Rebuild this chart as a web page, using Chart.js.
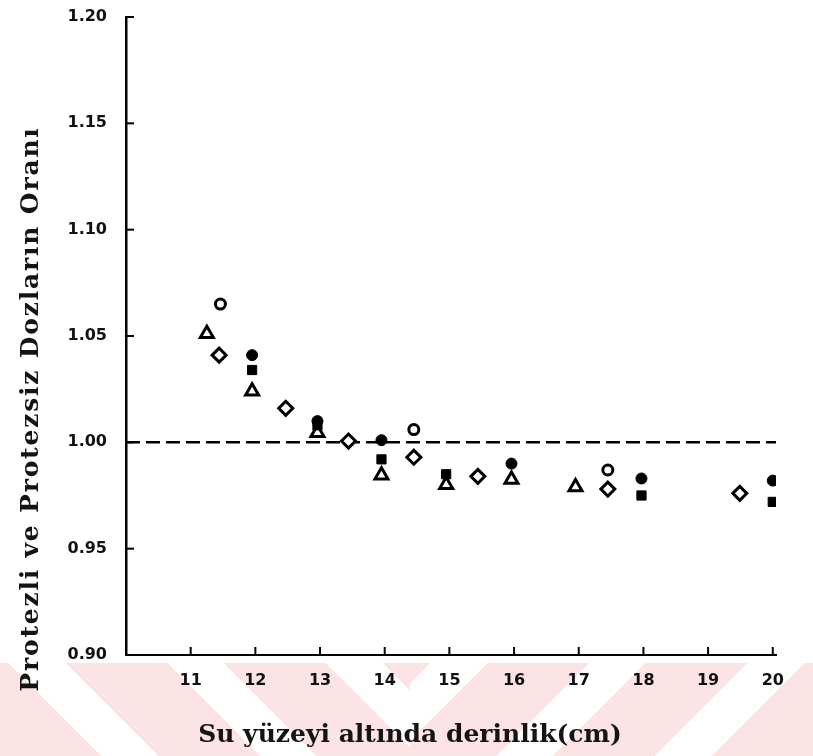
<!DOCTYPE html>
<html>
<head>
<meta charset="utf-8">
<script src="https://cdn.jsdelivr.net/npm/chart.js@4.4.0/dist/chart.umd.min.js"></script>
<style>
  html, body { margin: 0; padding: 0; background: #fff; }
  #wrap { position: relative; width: 813px; height: 756px; overflow: hidden; }
  /* pembe filigran şeritleri (alt kısım) */
  .bant { position: absolute; top: 663px; height: 93px; }
  #solBant { left: 0; width: 410px;
    background: repeating-linear-gradient(45deg, #fce3e6 0 72px, #ffffff 72px 112px); }
  #sagBant { left: 410px; width: 403px;
    background: repeating-linear-gradient(-45deg, #fce3e6 0 72px, #ffffff 72px 112px); }
  canvas { position: absolute; left: 0; top: 0; }
</style>
</head>
<body>
<div id="wrap">
  <div class="bant" id="solBant"></div>
  <div class="bant" id="sagBant"></div>
  <canvas id="myChart" width="813" height="756"></canvas>
</div>
<script>
// eksen etiketleri
var xBaslik = 'Su yüzeyi altında derinlik(cm)'
var yBaslik = 'Protezli ve Protezsiz Dozların Oranı'
var xTicks = [11, 12, 13, 14, 15, 16, 17, 18, 19, 20]
var yTicks = [0.90, 0.95, 1.00, 1.05, 1.10, 1.15, 1.20]

// seriler
var acikDaireX = [11.46, 14.45, 17.45]
var acikDaireY = [1.065, 1.006, 0.987]

var doluDaireX = [11.95, 12.96, 13.95, 15.96, 17.97, 20.0]
var doluDaireY = [1.041, 1.010, 1.001, 0.990, 0.983, 0.982]

var kareX = [11.95, 12.96, 13.95, 14.95, 17.97, 20.0]
var kareY = [1.034, 1.008, 0.992, 0.985, 0.975, 0.972]

var ucgenX = [11.25, 11.95, 12.96, 13.95, 14.95, 15.96, 16.95]
var ucgenY = [1.051, 1.024, 1.0045, 0.9845, 0.980, 0.9825, 0.979]

var karoX = [11.44, 12.47, 13.44, 14.45, 15.44, 17.45, 19.49]
var karoY = [1.041, 1.016, 1.0006, 0.993, 0.984, 0.978, 0.976]

// 1.00 referans çizgisi
var refX = [10, 20.05]
var refY = [1.00, 1.00]

function pts(xs, ys) {
    var out = []
    xs.forEach((x, i) => out.push({ x: x, y: ys[i] }))
    return out
}

////-----
// eksen başlıkları
var eksenBasliklari = {
    id: 'eksenBasliklari',
    afterDraw(chart) {
        var ctx = chart.ctx
        var a = chart.chartArea
        ctx.save()
        ctx.fillStyle = '#141414'
        ctx.textAlign = 'center'
        ctx.textBaseline = 'middle'
        ctx.font = 'bold 25px "DejaVu Serif"'
        ctx.fillText(xBaslik, a.left + 284, a.bottom + 80)
        ctx.font = 'bold 25px "DejaVu Serif"'
        ctx.letterSpacing = '1.8px'
        ctx.translate(31, a.bottom - 246)
        ctx.rotate(-Math.PI / 2)
        ctx.fillText(yBaslik, 0, 0)
        ctx.restore()
    }
}

// içe dönük küçük tik çizgileri
var icTikler = {
    id: 'icTikler',
    afterDraw(chart) {
        var c = chart.ctx
        var xs = chart.scales.x
        var ys = chart.scales.y
        c.save()
        c.strokeStyle = '#000'
        c.lineWidth = 2
        xs.ticks.forEach(t => {
            var px = xs.getPixelForValue(t.value)
            c.beginPath(); c.moveTo(px, ys.bottom); c.lineTo(px, ys.bottom - 8); c.stroke()
        })
        ys.ticks.forEach(t => {
            var py = ys.getPixelForValue(t.value)
            c.beginPath(); c.moveTo(xs.left, py); c.lineTo(xs.left + 8, py); c.stroke()
        })
        c.restore()
    }
}

var tickFont = { family: '"DejaVu Sans"', size: 16, weight: 'bold' }

var ctx = document.getElementById('myChart').getContext('2d');
var myChart = new Chart(ctx, {
    type: 'scatter',
    data: {
        datasets: [{
            label: 'açık daire',
            data: pts(acikDaireX, acikDaireY),
            pointStyle: 'circle',
            pointRadius: 5,
            backgroundColor: '#fff',
            borderColor: '#000',
            borderWidth: 3
        }, {
            label: 'dolu daire',
            data: pts(doluDaireX, doluDaireY),
            pointStyle: 'circle',
            pointRadius: 5.5,
            backgroundColor: '#000',
            borderColor: '#000',
            borderWidth: 1
        }, {
            label: 'kare',
            data: pts(kareX, kareY),
            pointStyle: 'rect',
            pointRadius: 6.5,
            backgroundColor: '#000',
            borderColor: '#000',
            borderWidth: 1
        }, {
            label: 'üçgen',
            data: pts(ucgenX, ucgenY),
            pointStyle: 'triangle',
            pointRadius: 7.5,
            backgroundColor: '#fff',
            borderColor: '#000',
            borderWidth: 3
        }, {
            label: 'karo',
            data: pts(karoX, karoY),
            pointStyle: 'rectRot',
            pointRadius: 7,
            backgroundColor: '#fff',
            borderColor: '#000',
            borderWidth: 3
        }, {
            type: 'line',
            label: 'ref',
            data: pts(refX, refY),
            borderColor: '#000',
            borderWidth: 2.5,
            borderDash: [14, 6],
            pointRadius: 0,
            fill: false
        }]
    },
    options: {
        responsive: false,
        animation: false,
        layout: { padding: { top: 17, right: 37, left: 0, bottom: 0 } },
        plugins: {
            legend: { display: false },
            tooltip: { enabled: false }
        },
        scales: {
            x: {
                type: 'linear',
                min: 10,
                max: 20.05,
                afterBuildTicks: function (scale) {
                    scale.ticks = xTicks.map(v => ({ value: v }))
                },
                afterFit: function (scale) {
                    scale.height = 101
                    scale.paddingLeft = 0
                    scale.paddingRight = 0
                },
                border: { display: true, color: '#000', width: 2 },
                grid: { display: false },
                ticks: {
                    color: '#111',
                    font: tickFont,
                    padding: 8,
                    maxRotation: 0,
                    callback: function (v) { return v }
                }
            },
            y: {
                min: 0.90,
                max: 1.20,
                afterBuildTicks: function (scale) {
                    scale.ticks = yTicks.map(v => ({ value: v }))
                },
                afterFit: function (scale) {
                    scale.width = 126
                    scale.paddingTop = 0
                    scale.paddingBottom = 0
                },
                border: { display: true, color: '#000', width: 2.5 },
                grid: { display: false },
                ticks: {
                    color: '#111',
                    font: tickFont,
                    padding: 11,
                    callback: function (v) { return v.toFixed(2) }
                }
            }
        }
    },
    plugins: [eksenBasliklari, icTikler]
});
</script>
</body>
</html>
